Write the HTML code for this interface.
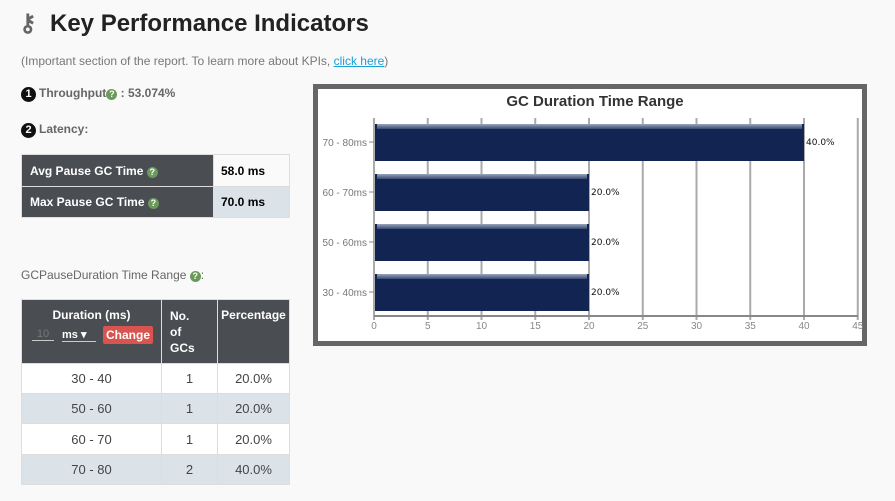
<!DOCTYPE html>
<html><head><meta charset="utf-8"><style>
body{margin:0;width:895px;height:501px;background:#f9f9f9;font-family:"Liberation Sans",sans-serif;position:relative;overflow:hidden}
.a{position:absolute}
.h{font-size:24px;font-weight:bold;color:#222;left:50px;top:10px}
.sub{font-size:12px;color:#777;left:21px;top:54px}
.sub a{color:#1aa0d8}
.num{display:inline-block;width:15px;height:15px;border-radius:50%;background:#111;color:#fff;font-size:11px;text-align:center;line-height:15px;font-weight:bold;margin-right:3px}
.lbl{font-size:12px;font-weight:bold;color:#666}
.q{display:inline-block;width:11px;height:11px;border-radius:50%;background:#6a9a5a;color:#fff;font-size:9px;text-align:center;line-height:11px;font-weight:bold}
table{border-collapse:collapse;font-size:12px}
td{border:1px solid #ddd}
</style></head><body>
<div class="a h"><span style="position:absolute;left:-31px;top:-1px;color:#666;font-size:24px">⚷</span>Key Performance Indicators</div>
<div class="a sub">(Important section of the report. To learn more about KPIs, <a href="#">click here</a>)</div>
<div class="a lbl" style="left:21px;top:86px"><span class="num">1</span>Throughput<span class="q">?</span> : 53.074%</div>
<div class="a lbl" style="left:21px;top:122px"><span class="num">2</span>Latency:</div>
<table class="a" style="left:21px;top:154px;width:269px">
<tr style="height:32px"><td style="background:#4a4d52;color:#fff;font-weight:bold;padding-left:8px;width:182px">Avg Pause GC Time <span class="q">?</span></td><td style="background:#fafafa;font-weight:bold;padding-left:7px">58.0 ms</td></tr>
<tr style="height:31px"><td style="background:#4a4d52;color:#fff;font-weight:bold;padding-left:8px">Max Pause GC Time <span class="q">?</span></td><td style="background:#dce3e8;font-weight:bold;padding-left:7px">70.0 ms</td></tr>
</table>
<div class="a" style="left:21px;top:268px;font-size:12px;color:#666">GCPauseDuration Time Range <span class="q">?</span>:</div>
<table class="a" style="left:21px;top:299px;width:269px;text-align:center;color:#444;font-size:13px">
<tr style="height:64px;background:#4a4d52;color:#fff;font-weight:bold;font-size:12px;vertical-align:top">
<td style="width:137px;padding-top:8px">Duration (ms)<div style="margin-top:6px;font-size:11px;position:relative;height:18px"><span style="position:absolute;left:9px;color:#777;font-weight:normal;border-bottom:1px solid #ccc;width:22px">10</span><span style="position:absolute;left:39px;border-bottom:1px solid #ccc;width:34px;text-align:left">ms ▾</span><span style="position:absolute;left:80px;top:-2px;background:#d9534f;border-radius:2px;padding:2px 3px;font-size:12px">Change</span></div></td>
<td style="width:47px;text-align:left;padding:8px 0 0 8px;line-height:16px">No.<br>of<br>GCs</td>
<td style="padding-top:8px">Percentage</td></tr>
<tr style="height:30px;background:#fff"><td>30 - 40</td><td>1</td><td>20.0%</td></tr>
<tr style="height:30px;background:#dce3e8"><td>50 - 60</td><td>1</td><td>20.0%</td></tr>
<tr style="height:31px;background:#fff"><td>60 - 70</td><td>1</td><td>20.0%</td></tr>
<tr style="height:30px;background:#dce3e8"><td>70 - 80</td><td>2</td><td>40.0%</td></tr>
</table>
<div class="a" style="left:313px;top:84px;width:544px;height:252px;border:5px solid #666;background:#fff"></div>
<svg class="a" style="left:0;top:0;z-index:2" width="895" height="501" id="chart">
<defs><linearGradient id="bev" x1="0" y1="0" x2="0" y2="1"><stop offset="0" stop-color="#9aa6bf"/><stop offset="1" stop-color="#3a4a70"/></linearGradient></defs>
<text x="595" y="106" text-anchor="middle" font-size="15" font-weight="bold" fill="#333" font-family="Liberation Sans">GC Duration Time Range</text>
</svg>
<script>
const categories=["70 - 80ms","60 - 70ms","50 - 60ms","30 - 40ms"];
const values=[40,20,20,20];
const valueLabels=["40.0%","20.0%","20.0%","20.0%"];
const ticks=[0,5,10,15,20,25,30,35,40,45];
const svg=document.getElementById('chart');
const NS='http://www.w3.org/2000/svg';
const x=v=>374+v*10.75;
const y=i=>142+i*50;
function mk(t,a){const e=document.createElementNS(NS,t);for(const k in a)e.setAttribute(k,a[k]);svg.appendChild(e);return e;}
ticks.forEach(t=>{
 const g=mk('line',{x1:x(t),x2:x(t),y1:118,y2:320,stroke:'#aaa','stroke-width':2});
 
 
 const l=mk('text',{x:x(t),y:329,'text-anchor':'middle','font-size':10,fill:'#888','font-family':'Liberation Sans'});
 l.textContent=t;
 
 
});
mk('line',{x1:374,x2:858,y1:316,y2:316,stroke:'#888','stroke-width':2});
categories.forEach((c,i)=>{
 const yc=y(i);
 const b=mk('rect',{x:375,y:yc-18,width:x(values[i])-375,height:37,fill:'#112452'});
 
 
 mk('rect',{x:377,y:yc-18,width:x(values[i])-379,height:5,fill:'url(#bev)'});
 const t=mk('text',{x:x(values[i])+2,y:yc+3,'font-size':9,fill:'#111','font-family':'DejaVu Sans'});
 t.textContent=valueLabels[i];
 
 
 const cl=mk('text',{x:367,y:yc+4,'text-anchor':'end','font-size':10,fill:'#777','font-family':'Liberation Sans'});
 cl.textContent=c;
 
 
 mk('line',{x1:369,x2:374,y1:yc,y2:yc,stroke:'#888'});
});
</script>
</body></html>
